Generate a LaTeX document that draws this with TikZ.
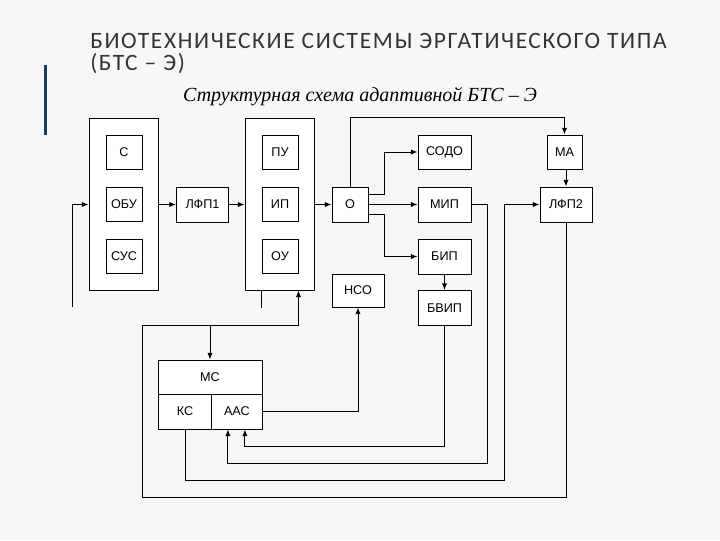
\documentclass[tikz,border=0pt]{standalone}
\usepackage{fontspec}
\setmainfont{Liberation Sans}
\newfontfamily\titlefont[LetterSpace=7]{Carlito}
\newfontfamily\subfont{Liberation Serif}
\usetikzlibrary{calc,arrows.meta}
\definecolor{bgc}{HTML}{F7F7F7}
\definecolor{barc}{HTML}{1F3A60}
\definecolor{titc}{HTML}{333333}
\tikzset{
  blk/.style={draw=black, fill=white, line width=0.75pt, inner sep=0pt, font=\fontsize{9.5}{10}\selectfont},
  sq/.style={blk, minimum width=27pt, minimum height=25.5pt},
  wd/.style={blk, minimum width=39pt, minimum height=26.25pt},
  bigbox/.style={blk, minimum width=51.75pt, minimum height=129pt},
  conn/.style={line width=0.75pt},
  arr/.style={conn, -{Latex[length=5pt,width=4pt]}}
}
\begin{document}
\begin{tikzpicture}[x=0.75pt,y=-0.75pt]
\useasboundingbox (0,0) rectangle (720,540);
\fill[bgc] (0,0) rectangle (720,540);
% title
\node[anchor=base west, inner sep=0pt, text=titc, font=\titlefont\fontsize{17.6}{20}\selectfont] (title1) at (90,48) {БИОТЕХНИЧЕСКИЕ СИСТЕМЫ ЭРГАТИЧЕСКОГО ТИПА};
\node[anchor=base west, inner sep=0pt, text=titc, font=\titlefont\fontsize{17.6}{20}\selectfont] (title2) at (90,70) {(БТС – Э)};
\fill[barc] (44,65) rectangle (46.5,135);
\node[anchor=base, inner sep=0pt, font=\subfont\itshape\fontsize{15}{17}\selectfont] (sub) at (360,101) {Структурная схема адаптивной БТС – Э};
% big boxes
\node[bigbox] (bigL) at (123.5,204) {};
\node[bigbox] (bigM) at (279.5,204) {};
\node[sq] (s) at (124,152) {С};
\node[sq] (obu) at (124,204.5) {ОБУ};
\node[sq] (sus) at (124,256.5) {СУС};
\node[wd] (lfp1) at (202.5,204.5) {ЛФП1};
\node[sq] (pu) at (280,152) {ПУ};
\node[sq] (ip) at (280,204.5) {ИП};
\node[sq] (ou) at (280,256.5) {ОУ};
\node[sq, minimum height=26.25pt] (o) at (350,204.5) {О};
\node[wd, minimum height=24.75pt] (nso) at (358,290.5) {НСО};
\node[wd, minimum width=39.75pt, minimum height=25.5pt] (sodo) at (444.5,152) {СОДО};
\node[wd, minimum width=39.75pt] (mip) at (444.5,204.5) {МИП};
\node[wd, minimum width=39.75pt] (bip) at (444.5,256.5) {БИП};
\node[wd, minimum width=39.75pt] (bvip) at (444.5,308) {БВИП};
\node[sq, minimum width=26.25pt] (ma) at (564.5,152) {МА};
\node[wd] (lfp2) at (566,204.5) {ЛФП2};
\node[blk, minimum width=78pt, minimum height=25.5pt] (ms) at (210,377) {МС};
\node[blk, minimum width=40.25pt, minimum height=26.25pt] (kc) at (185,411.5) {КС};
\node[blk, minimum width=37.75pt, minimum height=26.25pt] (aac) at (236.9,411.5) {ААС};
% connectors
\coordinate (lstub) at (72,307);
\draw[arr] (lstub) |- (bigL.west |- obu);
\draw[arr] (bigL.east |- lfp1) -- (lfp1);
\draw[arr] (lfp1) -- (bigM.west |- lfp1);
\draw[arr] (bigM.east |- o) -- (o);
\draw[conn] (bigM.south -| ou.west) -- ++(0,17);
\draw[arr] (o.north) |- (ma.north |- bigM.north) -- (ma.north);
\draw[arr] (ma.south -| lfp2) -- (lfp2.north);
\draw[arr] ($(o.east)+(0,-10)$) -- ++(16,0) |- (sodo);
\draw[arr] (o) -- (mip);
\draw[arr] ($(o.east)+(0,10)$) -- ++(16,0) |- (bip);
\draw[arr] (bip) -- (bvip);
\draw[arr] (bvip.south) |- ($(aac.south)+(8,17)$) -- ($(aac.south)+(8,0)$);
\draw[arr] (mip.east) -- ++(16,0) |- ($(aac.south)+(-9,34)$) -- ($(aac.south)+(-9,0)$);
\draw[arr] (kc.south) -- ++(0,51) -| ($(lfp2.west)+(-35,0)$) -- (lfp2.west);
\coordinate (loopL) at (142,497);
\coordinate (loopT) at (142,325);
\draw[arr] (lfp2.south) |- (loopL) -- (loopT) -| (bigM.south -| ou.east);
\draw[arr] (ms.north |- loopT) -- (ms.north);
\draw[arr] (aac.east) -| (nso.south);
\end{tikzpicture}
\end{document}
